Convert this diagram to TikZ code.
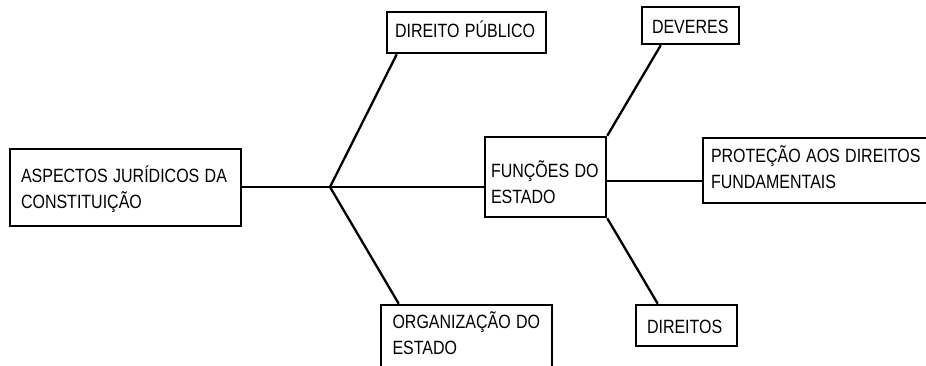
\documentclass[tikz,border=0pt]{standalone}
\usepackage{fontspec}
\setmainfont{Liberation Sans}
\usepackage{graphicx}
\usetikzlibrary{calc}
\newcommand{\tx}[2][0pt]{\raisebox{-#1}[\height][\depth]{\scalebox{1}[1.2]{\begin{tabular}{@{}l@{}}#2\end{tabular}}}}
\begin{document}
\begin{tikzpicture}[x=1pt,y=-1pt,
  box/.style={draw, line width=2.5pt, inner ysep=0pt, align=left, font=\fontsize{16}{21.7}\selectfont},
  conn/.style={line width=2.3pt}]
\useasboundingbox (0,0) rectangle (926,365);
\clip (0,0) rectangle (926,365);
\node[box, inner xsep=11pt, text width=209pt, minimum height=77pt] (asp) at (125.5,187.5) {\tx[3pt]{ASPECTOS JURÍDICOS DA\\CONSTITUIÇÃO}};
\node[box, inner xsep=8pt, text width=143pt, minimum height=41pt] (dp) at (466.5,32.5) {\tx{DIREITO PÚBLICO}};
\node[box, inner xsep=11.5pt, text width=148pt, minimum height=63pt] (org) at (466.5,336.5) {\tx{ORGANIZAÇÃO DO\\ESTADO}};
\node[box, inner xsep=6pt, text width=109pt, minimum height=80pt] (fun) at (545.5,177) {\tx[8pt]{FUNÇÕES DO\\ESTADO}};
\node[box, inner xsep=10pt, text width=77pt, minimum height=37pt] (dev) at (690.5,25.5) {\tx[2.5pt]{DEVERES}};
\node[box, inner xsep=8pt, text width=211pt, minimum height=65pt] (pro) at (816.5,170.5) {\tx{PROTEÇÃO AOS DIREITOS\\FUNDAMENTAIS}};
\node[box, inner xsep=11pt, text width=79pt, minimum height=41pt] (dir) at (686.5,325.5) {\tx[2.5pt]{DIREITOS}};
\coordinate (j) at (330,187);
\coordinate (dpin) at ($(dp.south west)+(11,0)$);
\coordinate (orgin) at ($(org.north west)+(19,0)$);
\coordinate (devin) at ($(dev.south west)+(20,0)$);
\coordinate (dirin) at ($(dir.north west)+(23,0)$);
\coordinate (f1) at ($(fun.east)+(0,4)$);
\draw[conn] (asp.east |- j) -- (j) -- (j -| fun.west);
\draw[conn] (j) -- (dpin);
\draw[conn] (j) -- (orgin);
\draw[conn] (fun.north east) -- (devin);
\draw[conn] (f1) -- (f1 -| pro.west);
\draw[conn] (fun.south east) -- (dirin);
\end{tikzpicture}
\end{document}
